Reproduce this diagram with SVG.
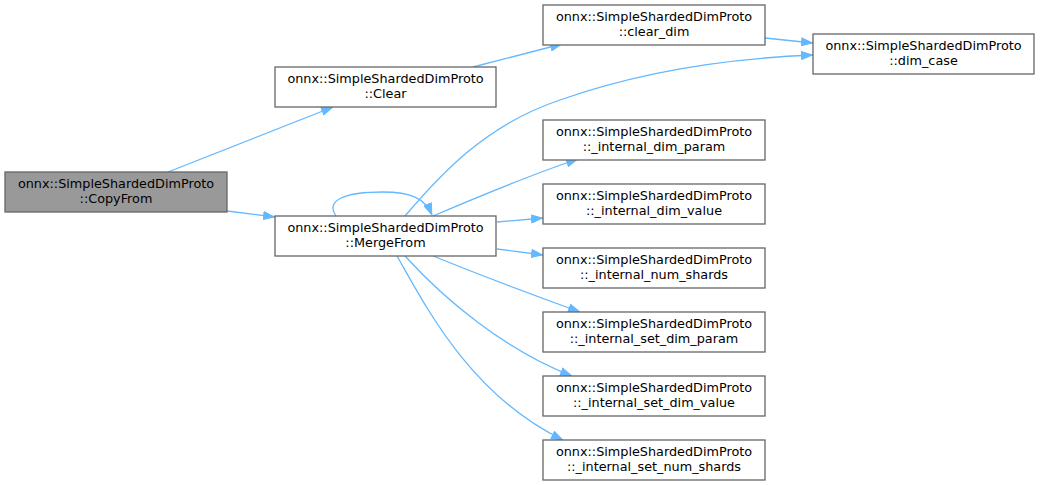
<svg xmlns="http://www.w3.org/2000/svg" width="1040" height="485" viewBox="0 0 1040 485">
<style>
.n rect{fill:#ffffff;stroke:#666666;stroke-width:1.3}
.n.cur rect{fill:#999999}
.n text{font-family:"DejaVu Sans",sans-serif;font-size:12.8px;fill:#000000;text-anchor:middle}
.e path{fill:none;stroke:#63b8ff;stroke-width:1.3}
</style>
<defs>
<marker id="ah" viewBox="0 0 12 9" refX="12" refY="4.5" markerWidth="12" markerHeight="9" markerUnits="userSpaceOnUse" orient="auto">
<path d="M0.5,0.5 L11.5,4.5 L0.5,8.5 z" fill="#63b8ff" stroke="#63b8ff" stroke-width="1"/>
</marker>
</defs>
<rect width="1040" height="485" fill="#ffffff"/>
<g id="edges" class="e">
<path d="M168,172 L333,107" marker-end="url(#ah)"/>
<path d="M227,211 L275,217" marker-end="url(#ah)"/>
<path d="M473,67 L562,44" marker-end="url(#ah)"/>
<path d="M765,38 L813,43" marker-end="url(#ah)"/>
<path d="M405,216 C440,175 485,125 560,100 C650,68 740,58 813,55" marker-end="url(#ah)"/>
<path d="M336,216 C325,200 345,192 383,192 C410,192 425,198 432,215" marker-end="url(#ah)"/>
<path d="M433,216 C480,196 530,175 578,159" marker-end="url(#ah)"/>
<path d="M497,222 L543,218" marker-end="url(#ah)"/>
<path d="M497,249 L543,255" marker-end="url(#ah)"/>
<path d="M433,256 C480,275 530,294 580,312" marker-end="url(#ah)"/>
<path d="M405,256 C445,300 505,350 572,376" marker-end="url(#ah)"/>
<path d="M397,256 C425,305 470,395 563,440" marker-end="url(#ah)"/>
</g>
<g id="node_copyfrom" class="n cur"><rect x="5" y="172" width="222" height="40"/><text x="116" y="188">onnx::SimpleShardedDimProto</text><text x="116" y="203">::CopyFrom</text></g>
<g id="node_clear" class="n"><rect x="275" y="67" width="221" height="40"/><text x="385.5" y="83">onnx::SimpleShardedDimProto</text><text x="385.5" y="98">::Clear</text></g>
<g id="node_mergefrom" class="n"><rect x="275" y="216" width="221" height="40"/><text x="385.5" y="232">onnx::SimpleShardedDimProto</text><text x="385.5" y="247">::MergeFrom</text></g>
<g id="node_clear_dim" class="n"><rect x="543" y="5" width="222" height="40"/><text x="654" y="21">onnx::SimpleShardedDimProto</text><text x="654" y="36">::clear_dim</text></g>
<g id="node_dim_case" class="n"><rect x="813" y="34" width="221" height="40"/><text x="923.5" y="50">onnx::SimpleShardedDimProto</text><text x="923.5" y="65">::dim_case</text></g>
<g id="node_internal_dim_param" class="n"><rect x="543" y="120" width="222" height="40"/><text x="654" y="136">onnx::SimpleShardedDimProto</text><text x="654" y="151">::_internal_dim_param</text></g>
<g id="node_internal_dim_value" class="n"><rect x="543" y="184" width="222" height="40"/><text x="654" y="200">onnx::SimpleShardedDimProto</text><text x="654" y="215">::_internal_dim_value</text></g>
<g id="node_internal_num_shards" class="n"><rect x="543" y="248" width="222" height="40"/><text x="654" y="264">onnx::SimpleShardedDimProto</text><text x="654" y="279">::_internal_num_shards</text></g>
<g id="node_internal_set_dim_param" class="n"><rect x="543" y="312" width="222" height="40"/><text x="654" y="328">onnx::SimpleShardedDimProto</text><text x="654" y="343">::_internal_set_dim_param</text></g>
<g id="node_internal_set_dim_value" class="n"><rect x="543" y="376" width="222" height="40"/><text x="654" y="392">onnx::SimpleShardedDimProto</text><text x="654" y="407">::_internal_set_dim_value</text></g>
<g id="node_internal_set_num_shards" class="n"><rect x="543" y="440" width="222" height="40"/><text x="654" y="456">onnx::SimpleShardedDimProto</text><text x="654" y="471">::_internal_set_num_shards</text></g>
</svg>
